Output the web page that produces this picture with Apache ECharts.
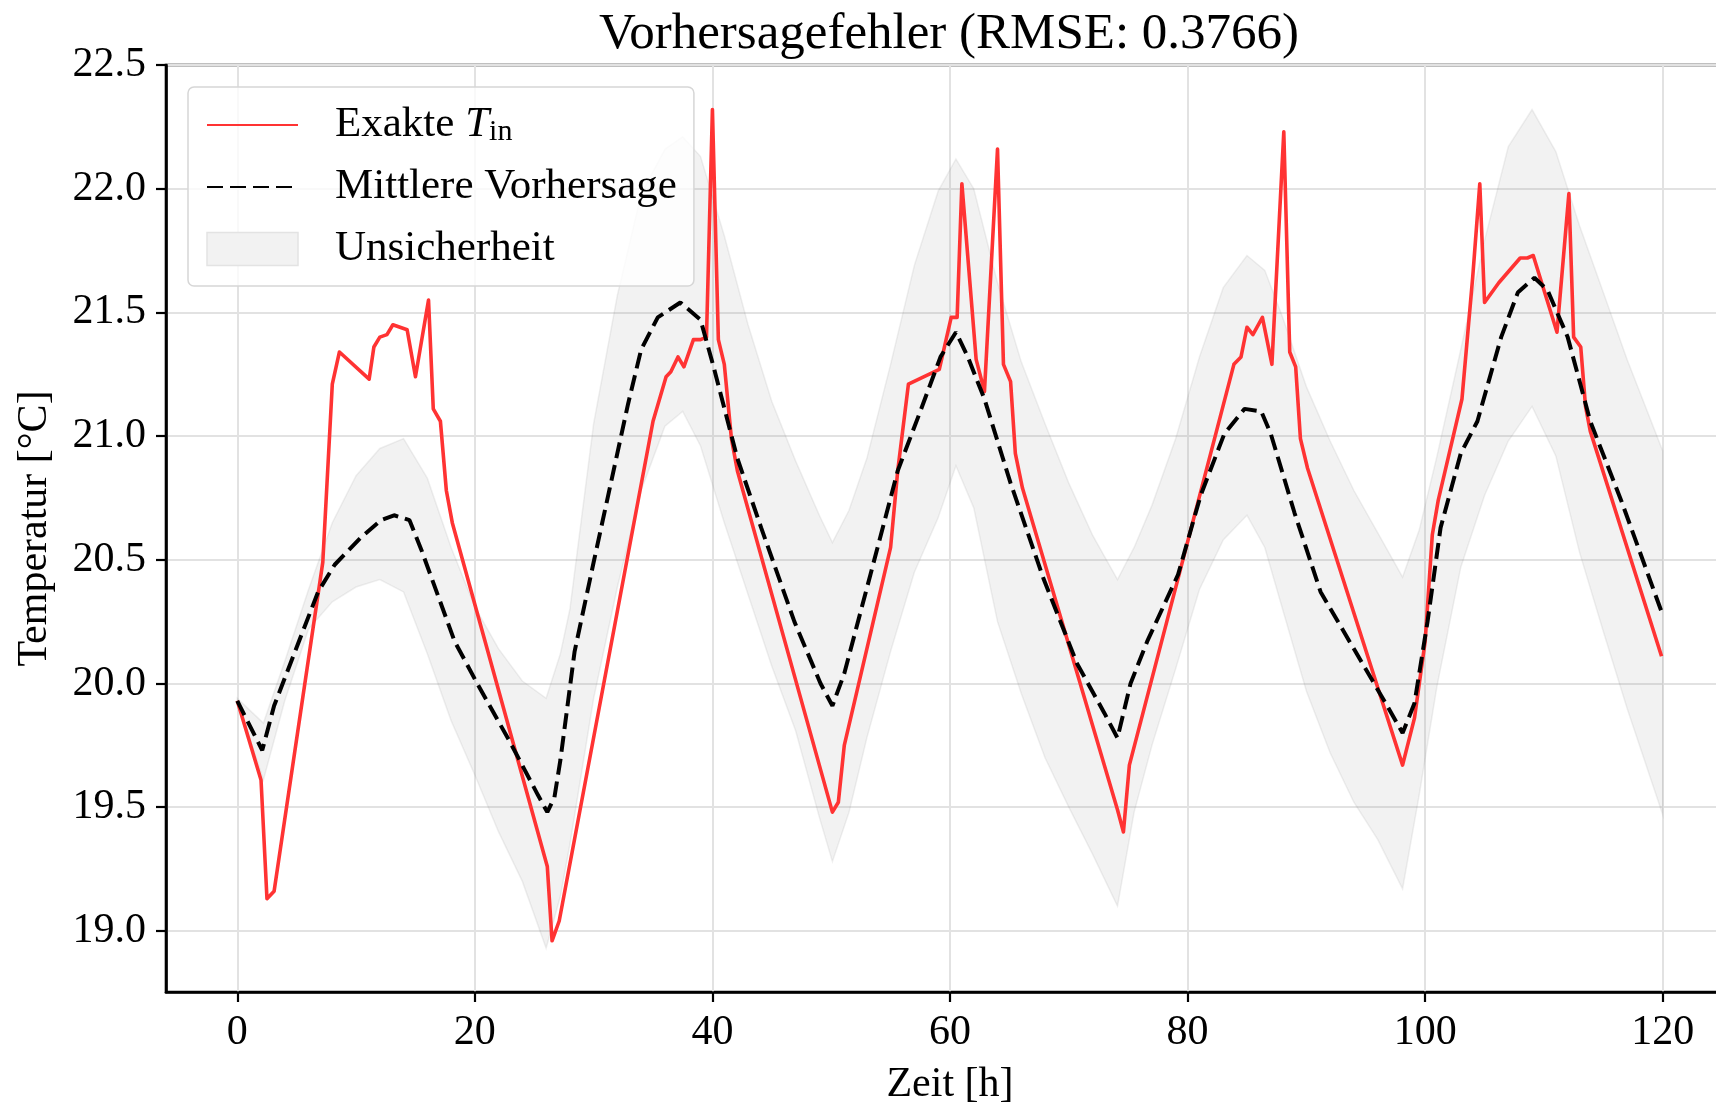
<!DOCTYPE html>
<html>
<head>
<meta charset="utf-8">
<script src="https://cdn.jsdelivr.net/npm/echarts@6/dist/echarts.min.js"></script>
<style>
  html, body { margin: 0; padding: 0; background: #fff; overflow: hidden; }
  #chart { width: 1740px; height: 1111px; }
</style>
</head>
<body>
<div id="chart"></div>
<script>
// exact indoor temperature (red)
const exactTime = [0, 2.0, 2.5, 3.1, 7.2, 8.0, 8.6, 11.1, 11.5, 12.0, 12.6, 13.1, 14.3, 15.0, 16.1, 16.5, 17.1, 17.6, 18.1,
  26.1, 26.5, 27.1, 35.0, 36.1, 36.5, 37.1, 37.6, 38.4, 39.0, 39.5, 40.0, 40.5, 41.0, 41.6, 42.1,
  50.1, 50.6, 51.1, 55.0, 55.6, 56.5, 59.1, 60.1, 60.6, 61.0, 62.2, 62.9, 64.0, 64.5, 65.1, 65.5, 66.1,
  74.1, 74.6, 75.1, 83.9, 84.5, 85.0, 85.5, 86.3, 87.1, 88.1, 88.6, 89.1, 89.5, 90.1,
  98.1, 99.1, 100.0, 100.6, 101.1, 103.1, 104.0, 104.6, 105.0, 106.2, 108.0, 108.6, 109.1, 111.1, 112.1, 112.5, 113.1, 113.5, 113.9, 119.9];
const exactTemp = [19.93, 19.61, 19.13, 19.16, 20.49, 21.21, 21.34, 21.23, 21.36, 21.40, 21.41, 21.45, 21.43, 21.24, 21.55, 21.11, 21.06, 20.78, 20.65,
  19.26, 18.96, 19.04, 21.06, 21.24, 21.26, 21.32, 21.28, 21.39, 21.39, 21.40, 22.32, 21.39, 21.29, 20.99, 20.86,
  19.48, 19.52, 19.75, 20.55, 20.86, 21.21, 21.27, 21.48, 21.48, 22.02, 21.31, 21.18, 22.16, 21.29, 21.22, 20.93, 20.79,
  19.49, 19.40, 19.67, 21.29, 21.32, 21.44, 21.41, 21.48, 21.29, 22.23, 21.34, 21.28, 20.99, 20.87,
  19.67, 19.86, 20.17, 20.60, 20.74, 21.15, 21.64, 22.02, 21.54, 21.62, 21.72, 21.72, 21.73, 21.42, 21.98, 21.40, 21.36, 21.12, 21.02, 20.11];

// mean prediction (black dashed)
const meanTime = [0, 2.1, 3.1, 6.8, 8.2, 10.4, 12.1, 13.2, 14.5, 15.5, 18.3, 20.2, 23.0, 25.3, 26.1, 26.7, 27.2, 28.4,
  30.0, 32.9, 34.0, 35.4, 37.3, 39.0, 40.1, 42.1, 44.1, 46.9, 49.1, 50.1, 51.1, 53.3, 55.6, 57.5, 59.2,
  60.5, 61.5, 62.9, 65.1, 67.9, 70.7, 73.0, 74.1, 75.2, 76.6, 79.2, 81.1, 83.1, 84.8, 86.2, 87.0, 89.0,
  91.2, 94.0, 96.8, 98.1, 99.1, 100.2, 101.3, 103.0, 104.4, 106.4, 107.8, 109.2, 110.3, 112.0, 113.9, 116.5, 119.9];
const meanTemp = [19.93, 19.73, 19.91, 20.37, 20.48, 20.59, 20.66, 20.68, 20.66, 20.54, 20.17, 20.00, 19.76, 19.55, 19.48, 19.54, 19.69, 20.13,
  20.49, 21.13, 21.35, 21.48, 21.54, 21.47, 21.28, 20.91, 20.63, 20.25, 20.00, 19.91, 20.04, 20.44, 20.86, 21.10, 21.32,
  21.42, 21.32, 21.15, 20.81, 20.42, 20.08, 19.88, 19.78, 20.00, 20.17, 20.44, 20.76, 21.01, 21.11, 21.10, 21.01, 20.69,
  20.37, 20.14, 19.91, 19.80, 19.92, 20.25, 20.63, 20.93, 21.06, 21.40, 21.58, 21.64, 21.59, 21.40, 21.06, 20.74, 20.29];

// uncertainty band
const bandX = [0, 2.2, 4, 6, 8, 10, 12, 14, 16, 18, 20, 22, 24, 26, 27.2, 28, 30, 32, 34, 36, 37.5, 39, 41, 43, 45, 47, 49, 50.1,
  51.5, 53, 55, 57, 59, 60.5, 62, 64, 66, 68, 70, 72, 74.1, 75.5, 77, 79, 81, 83, 85, 86.5, 88, 90, 92, 94, 96, 98.1,
  99.5, 101, 103, 105, 107, 109, 111, 113, 115, 117, 120];
const bandHigh = [19.94, 19.84, 20.09, 20.38, 20.65, 20.84, 20.95, 20.99, 20.83, 20.55, 20.31, 20.14, 20.01, 19.94, 20.12, 20.30,
  21.05, 21.57, 21.98, 22.16, 22.21, 22.13, 21.81, 21.45, 21.14, 20.90, 20.68, 20.57,
  20.70, 20.91, 21.29, 21.69, 21.99, 22.12, 22.00, 21.62, 21.30, 21.05, 20.81, 20.60, 20.42, 20.55, 20.72, 20.99, 21.32, 21.60,
  21.73, 21.67, 21.48, 21.20, 20.98, 20.78, 20.61, 20.43, 20.62, 20.92, 21.35, 21.79, 22.17, 22.32, 22.15, 21.85, 21.58, 21.31, 20.94];
const bandLow = [19.93, 19.61, 19.93, 20.22, 20.33, 20.39, 20.42, 20.37, 20.12, 19.85, 19.63, 19.40, 19.20, 18.93, 19.14, 19.35,
  19.94, 20.39, 20.78, 21.04, 21.10, 20.96, 20.65, 20.36, 20.07, 19.81, 19.46, 19.28,
  19.48, 19.78, 20.13, 20.45, 20.67, 20.88, 20.71, 20.25, 19.96, 19.70, 19.50, 19.31, 19.10, 19.48, 19.75, 20.06, 20.38, 20.58,
  20.68, 20.55, 20.30, 19.97, 19.72, 19.52, 19.37, 19.17, 19.55, 19.99, 20.47, 20.76, 20.98, 21.12, 20.92, 20.53, 20.21, 19.90, 19.47];

const xTicks = [0, 20, 40, 60, 80, 100, 120];
const yTicks = [19.0, 19.5, 20.0, 20.5, 21.0, 21.5, 22.0, 22.5];

const FONT = 'Liberation Serif';

const chart = echarts.init(document.getElementById('chart'));

const noSymbol = { color: 'rgba(0,0,0,0)', borderColor: 'rgba(0,0,0,0)', borderWidth: 0, opacity: 0 };

const option = {
  animation: false,
  backgroundColor: '#fff',
  title: {
    text: 'Vorhersagefehler (RMSE: 0.3766)',
    left: 949,
    top: 9,
    padding: 0,
    textAlign: 'center',
    textStyle: { fontFamily: FONT, fontSize: 51, fontWeight: 'normal', color: '#000' }
  },
  grid: {
    left: 166, top: 65, width: 1568, height: 931,
    show: true, borderColor: '#000', borderWidth: 2.6, backgroundColor: 'transparent'
  },
  legend: {
    orient: 'vertical',
    left: 188, top: 87,
    padding: [16, 17, 15, 18],
    itemGap: 18,
    itemWidth: 91,
    itemHeight: 33,
    backgroundColor: 'rgba(255,255,255,0.8)',
    borderColor: '#d6d6d6',
    borderWidth: 1.5,
    borderRadius: 6,
    data: [
      { name: 'Exakte Tin', itemStyle: noSymbol },
      { name: 'Mittlere Vorhersage', itemStyle: noSymbol },
      { name: 'Unsicherheit', icon: 'rect', itemStyle: { color: '#f2f2f2', borderColor: '#e3e3e3', borderWidth: 1.5 } }
    ],
    formatter: function (name) {
      if (name === 'Exakte Tin') return '{a|Exakte }{i|T}{s|in}';
      return '{a|' + name + '}';
    },
    textStyle: {
      fontFamily: FONT, fontSize: 43, color: '#000', lineHeight: 44,
      padding: [0, 0, 0, 32],
      rich: {
        a: { fontFamily: FONT, fontSize: 43, lineHeight: 44, color: '#000' },
        i: { fontFamily: FONT, fontSize: 43, lineHeight: 44, fontStyle: 'italic', color: '#000' },
        s: { fontFamily: FONT, fontSize: 30, lineHeight: 28, verticalAlign: 'bottom', color: '#000' }
      }
    }
  },
  xAxis: {
    type: 'value',
    min: -6, max: 126,
    name: 'Zeit [h]',
    nameLocation: 'middle',
    nameGap: 72,
    nameTextStyle: { fontFamily: FONT, fontSize: 42, color: '#000' },
    axisLine: { show: true, onZero: false, lineStyle: { color: '#000', width: 2.6 } },
    axisTick: { show: true, inside: false, length: 10, lineStyle: { color: '#000', width: 2.2 }, customValues: xTicks },
    axisLabel: { fontFamily: FONT, fontSize: 42, color: '#000', margin: 20, customValues: xTicks },
    splitLine: { show: true, lineStyle: { color: '#e2e2e2', width: 2 } }
  },
  yAxis: {
    type: 'value',
    min: 18.753, max: 22.5,
    name: 'Temperatur [°C]',
    nameLocation: 'middle',
    nameGap: 110,
    nameTextStyle: { fontFamily: FONT, fontSize: 42, color: '#000' },
    axisLine: { show: true, onZero: false, lineStyle: { color: '#000', width: 2.6 } },
    axisTick: { show: true, inside: false, length: 10, lineStyle: { color: '#000', width: 2.2 }, customValues: yTicks },
    axisLabel: {
      fontFamily: FONT, fontSize: 42, color: '#000', margin: 20, customValues: yTicks,
      formatter: function (v) { return v.toFixed(1); }
    },
    splitLine: { show: true, lineStyle: { color: '#e2e2e2', width: 2 } }
  },
  series: [
    {
      name: 'Unsicherheit',
      type: 'custom',
      z: 1,
      silent: true,
      data: bandX.map(function (x, i) { return [x, bandLow[i], bandHigh[i]]; }),
      encode: { x: 0, y: [1, 2] },
      renderItem: function (params, api) {
        if (params.dataIndexInside !== 0) return;
        const pts = [];
        for (let i = 0; i < bandX.length; i++) pts.push(api.coord([bandX[i], bandHigh[i]]));
        for (let i = bandX.length - 1; i >= 0; i--) pts.push(api.coord([bandX[i], bandLow[i]]));
        return {
          type: 'polygon',
          shape: { points: pts },
          style: { fill: 'rgba(128,128,128,0.1)', stroke: 'rgba(128,128,128,0.12)', lineWidth: 1.5 }
        };
      }
    },
    {
      name: 'Exakte Tin',
      type: 'line',
      z: 3,
      symbol: 'none',
      data: exactTime.map(function (t, i) { return [t, exactTemp[i]]; }),
      lineStyle: { color: '#ff3333', width: 3.6, join: 'round' },
      itemStyle: { color: '#ff3333' }
    },
    {
      name: 'Mittlere Vorhersage',
      type: 'line',
      z: 4,
      symbol: 'none',
      data: meanTime.map(function (t, i) { return [t, meanTemp[i]]; }),
      lineStyle: { color: '#000', width: 4, type: [16, 7] },
      itemStyle: { color: '#000' }
    }
  ]
};

chart.setOption(option);
</script>
</body>
</html>
